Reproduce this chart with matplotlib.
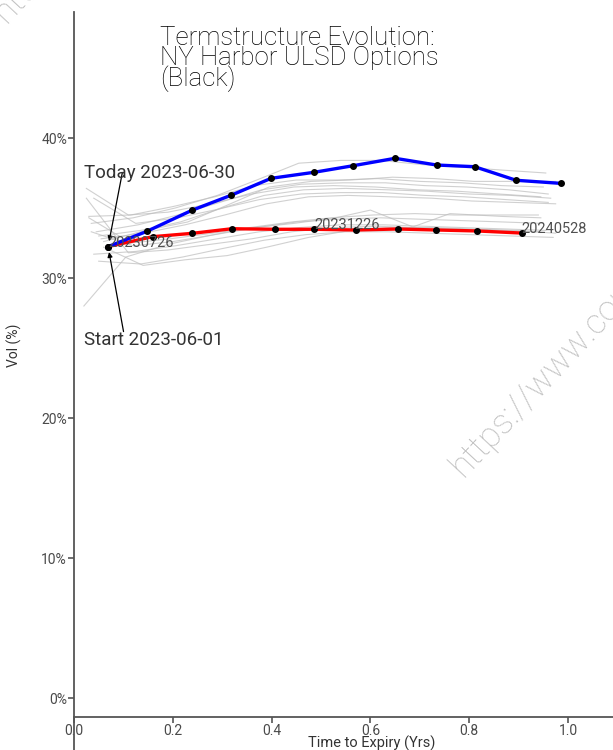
import matplotlib
matplotlib.use("Agg")
import matplotlib.pyplot as plt
from matplotlib.ticker import FuncFormatter

plt.rcParams['font.family'] = ['Roboto', 'DejaVu Sans']

# ---- data -------------------------------------------------------------
today_label = "Today 2023-06-30"
start_label = "Start 2023-06-01"

today_x = [0.069, 0.148, 0.239, 0.318, 0.399, 0.486, 0.565, 0.650, 0.734, 0.811, 0.895, 0.985]
today_vol = [32.24, 33.34, 34.84, 35.91, 37.12, 37.55, 38.02, 38.55, 38.07, 37.95, 36.98, 36.76]

start_x = [0.069, 0.159, 0.239, 0.320, 0.407, 0.486, 0.571, 0.655, 0.732, 0.816, 0.906]
start_vol = [32.24, 32.95, 33.19, 33.52, 33.48, 33.48, 33.43, 33.50, 33.43, 33.36, 33.21]
start_expiries = ["20230726", "", "", "", "", "20231226", "", "", "", "", "20240528"]

# intermediate days (grey)
hist_x = [
    [0.035, 0.12, 0.205, 0.29, 0.37, 0.455, 0.54, 0.62, 0.705, 0.79, 0.87, 0.955],
    [0.030, 0.115, 0.20, 0.285, 0.365, 0.45, 0.535, 0.615, 0.70, 0.785, 0.865, 0.95],
    [0.045, 0.13, 0.21, 0.295, 0.38, 0.46, 0.545, 0.63, 0.71, 0.795, 0.88, 0.96],
    [0.025, 0.11, 0.19, 0.275, 0.36, 0.445, 0.525, 0.61, 0.695, 0.775, 0.86, 0.945],
    [0.05, 0.135, 0.215, 0.30, 0.385, 0.465, 0.55, 0.635, 0.715, 0.80, 0.885, 0.965],
    [0.04, 0.125, 0.21, 0.29, 0.375, 0.46, 0.54, 0.625, 0.71, 0.79, 0.875, 0.96],
    [0.055, 0.14, 0.225, 0.305, 0.39, 0.475, 0.555, 0.64, 0.725, 0.805, 0.89, 0.975],
    [0.06, 0.145, 0.23, 0.31, 0.395, 0.48, 0.56, 0.645, 0.73, 0.81, 0.895, 0.975],
    [0.02, 0.105, 0.19, 0.27, 0.355, 0.44, 0.52, 0.605, 0.69, 0.77, 0.855, 0.94],
    [0.03, 0.115, 0.195, 0.28, 0.365, 0.445, 0.53, 0.60, 0.686, 0.761, 0.865, 0.945],
    [0.04, 0.125, 0.205, 0.29, 0.375, 0.455, 0.54, 0.625, 0.705, 0.79, 0.875, 0.955],
    [0.05, 0.135, 0.22, 0.30, 0.385, 0.47, 0.55, 0.635, 0.72, 0.80, 0.885, 0.97],
    [0.025, 0.11, 0.19, 0.275, 0.36, 0.44, 0.525, 0.61, 0.69, 0.775, 0.86, 0.94],
    [0.06, 0.14, 0.225, 0.31, 0.39, 0.475, 0.56, 0.64, 0.725, 0.81, 0.89, 0.975],
    [0.035, 0.12, 0.20, 0.285, 0.37, 0.45, 0.535, 0.62, 0.70, 0.785, 0.87, 0.95],
]
hist_vol = [
    [33.9, 34.3, 35.0, 35.9, 37.0, 38.2, 38.4, 38.4, 38.1, 37.9, 37.7, 37.5],
    [34.4, 34.5, 35.1, 35.8, 36.6, 37.0, 37.0, 37.1, 36.9, 36.8, 36.6, 36.5],
    [33.3, 33.8, 34.5, 35.4, 36.3, 36.7, 36.8, 36.8, 36.6, 36.5, 36.3, 36.0],
    [36.4, 34.5, 34.7, 35.3, 36.0, 36.5, 36.6, 36.5, 36.3, 36.2, 36.0, 35.8],
    [33.0, 33.4, 34.0, 35.0, 35.9, 36.3, 36.4, 36.3, 36.2, 36.0, 35.9, 35.7],
    [35.7, 33.9, 34.3, 34.9, 35.6, 36.0, 36.1, 36.1, 35.9, 35.8, 35.6, 35.4],
    [32.8, 33.2, 33.8, 34.5, 35.3, 35.8, 35.9, 35.8, 35.7, 35.5, 35.4, 35.3],
    [32.6, 33.4, 34.0, 35.2, 36.5, 36.9, 37.0, 37.2, 37.1, 36.9, 36.9, 36.9],
    [28.0, 31.5, 32.4, 33.0, 33.6, 34.0, 34.3, 34.5, 34.6, 34.5, 34.5, 34.5],
    [34.3, 32.5, 32.8, 33.2, 33.6, 33.9, 34.3, 34.85, 33.65, 34.6, 34.4, 34.3],
    [31.7, 31.9, 32.3, 32.8, 33.3, 33.6, 33.8, 33.8, 33.7, 33.6, 33.5, 33.4],
    [31.2, 31.0, 31.5, 32.1, 32.7, 33.1, 33.3, 33.3, 33.2, 33.1, 33.0, 32.9],
    [35.7, 31.8, 32.0, 32.4, 32.8, 33.3, 33.6, 33.7, 33.6, 33.5, 33.4, 33.3],
    [32.2, 30.9, 31.3, 31.6, 32.2, 32.9, 33.4, 33.6, 33.6, 33.5, 33.4, 33.2],
    [33.3, 32.3, 32.6, 33.1, 33.6, 34.0, 34.2, 34.3, 34.2, 34.1, 34.0, 33.9],
]

y_ticks = [0, 10, 20, 30, 40]
x_ticks = [0.0, 0.2, 0.4, 0.6, 0.8, 1.0]

# ---- plot -------------------------------------------------------------
fig = plt.figure(figsize=(6.13, 7.5), dpi=100)
ax = fig.add_axes([74 / 613, 0.0, 1 - 74 / 613, 1 - 12 / 750])

for xs, vs in zip(hist_x, hist_vol):
    ax.plot(xs, vs, color="#bdbdbd", lw=0.8, alpha=0.7, zorder=1)

ax.plot(start_x, start_vol, color="red", lw=2.4, zorder=3)
ax.plot(start_x, start_vol, "o", color="black", ms=4, zorder=4)
ax.plot(today_x, today_vol, color="blue", lw=2.4, zorder=3)
ax.plot(today_x, today_vol, "o", color="black", ms=4, zorder=4)

for xx, vv, lab in zip(start_x, start_vol, start_expiries):
    if lab:
        ax.text(xx, vv, lab, ha="left", va="baseline", fontsize=10.5,
                color="#505050", zorder=5)

arrow = dict(arrowstyle="-|>", color="black", lw=0.9, mutation_scale=7,
             shrinkA=0, shrinkB=4, patchA=None)
ax.annotate(today_label, xy=(today_x[0], today_vol[0]), xytext=(-17, 53),
            textcoords="offset points", ha="left", va="center", fontsize=13.5,
            color="#333333",
            arrowprops=dict(arrow, relpos=(0.25, 0.5)))
ax.annotate(start_label, xy=(start_x[0], start_vol[0]), xytext=(-17, -67),
            textcoords="offset points", ha="left", va="center", fontsize=13.5,
            color="#333333",
            arrowprops=dict(arrow, relpos=(0.28, 0.95)))

ax.text(0.16, (750 - 26) / 738, "Termstructure Evolution:\nNY Harbor ULSD Options\n(Black)",
        transform=ax.transAxes, ha="left", va="top", fontsize=18.6, linespacing=0.79,
        color="black", fontweight="light")

ax.set_xlim(0, 539 / 494)
ax.set_ylim(-52 / 14, 686 / 14)
ax.set_xticks(x_ticks)
ax.set_yticks(y_ticks)
ax.yaxis.set_major_formatter(FuncFormatter(lambda v, p: "%d%%" % v))
ax.xaxis.set_major_formatter(FuncFormatter(lambda v, p: "%.1f" % v))

for s in ["top", "right"]:
    ax.spines[s].set_visible(False)
ax.spines["bottom"].set_position(("data", -19 / 14))
for s in ["left", "bottom"]:
    ax.spines[s].set_color("#555555")
    ax.spines[s].set_linewidth(1.3)
ax.tick_params(axis="both", direction="out", length=4, width=1.2, color="#555555",
               labelsize=10, labelcolor="#4a4a4a", pad=1.0)

ax.set_xlabel("Time to Expiry (Yrs)", fontsize=10.5, color="#333333")
ax.xaxis.set_label_coords(0.553, 0.019)
ax.set_ylabel("Vol (%)", fontsize=10, color="#333333")
ax.yaxis.set_label_coords(-0.097, 0.549)

# watermark
wm = "https://www.commodity-charts.com"
fig.text(463 / 613, 1 - 478 / 750, wm, rotation=47, rotation_mode="anchor",
         ha="left", va="baseline", fontsize=25, color="#c0c0c0", fontweight="light", zorder=0)
fig.text(6 / 613, 1 - 24 / 750, wm, rotation=47, rotation_mode="anchor",
         ha="left", va="baseline", fontsize=25, color="#c0c0c0", fontweight="light", zorder=0)

fig.savefig("out.png", dpi=100)
